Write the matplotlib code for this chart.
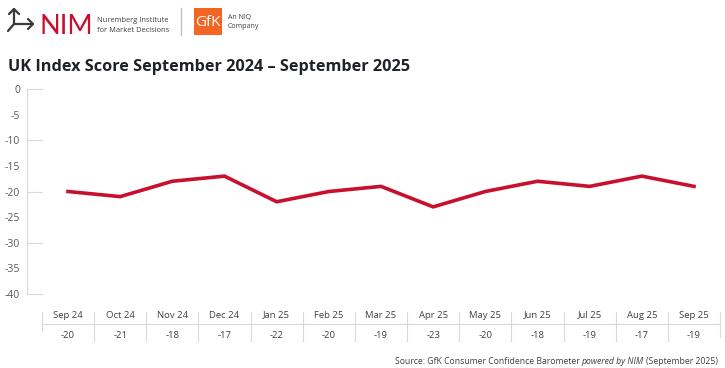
import matplotlib.pyplot as plt
import matplotlib.transforms as mtransforms
from matplotlib.patches import Rectangle
from matplotlib.lines import Line2D

months = ['Sep 24', 'Oct 24', 'Nov 24', 'Dec 24', 'Jan 25', 'Feb 25', 'Mar 25',
          'Apr 25', 'May 25', 'Jun 25', 'Jul 25', 'Aug 25', 'Sep 25']
scores = [-20, -21, -18, -17, -22, -20, -19, -23, -20, -18, -19, -17, -19]
y_ticks = [0, -5, -10, -15, -20, -25, -30, -35, -40]

W, H = 725, 368
RED = '#C8102E'
GREY = '#404040'

plt.rcParams['font.family'] = ['Open Sans', 'DejaVu Sans']

fig = plt.figure(figsize=(W / 100, H / 100), dpi=100)

def px(x, y):
    # pixel coords (top-left origin) -> figure fraction
    return x / W, 1 - y / H

# plot area: spine at x=27, categories centred at 68 ... 694, y 0 -> 89px, -40 -> 294px
left, right = 27, 722
top, bottom = 89, 294
ax = fig.add_axes([left / W, 1 - bottom / H, (right - left) / W, (bottom - top) / H])
step = (694 - 68) / 12
x0 = -(68 - left) / step
x1 = 12 + (right - 694) / step
ax.set_xlim(x0, x1)
ax.set_ylim(-40, 0)

xs = list(range(len(months)))
ax.plot(xs, scores, color=RED, lw=2.6, solid_joinstyle='miter')

for s in ['top', 'right', 'bottom']:
    ax.spines[s].set_visible(False)
ax.spines['left'].set_color('#d9d9d9')
ax.spines['left'].set_linewidth(0.8)
ax.set_yticks(y_ticks)
ax.set_yticklabels([str(v) for v in y_ticks])
ax.tick_params(axis='y', length=0, labelsize=7.5, labelcolor='#595959', pad=5)
ax.set_xticks([])
for v in [0, -10, -20, -30, -40]:
    ax.plot([x0, -0.5], [v, v], color='#d9d9d9', lw=0.8, clip_on=False)

# table under the plot
trans = mtransforms.blended_transform_factory(ax.transData, fig.transFigure)
yh = 1 - 315 / H
yv = 1 - 336 / H
yline = 1 - 324 / H
for i, (m, s) in enumerate(zip(months, scores)):
    ax.text(i, yh, m, transform=trans, ha='center', va='center', fontsize=6.8, color=GREY)
    ax.text(i, yv, str(s), transform=trans, ha='center', va='center', fontsize=6.8, color=GREY)
for i in range(len(months) + 1):
    xb = i - 0.5
    ybot = 330 if i == 0 else (337 if i == len(months) else 341)
    fig.add_artist(Line2D([xb, xb], [1 - 312 / H, 1 - ybot / H], transform=trans,
                          color='#d9d9d9', lw=0.8))
fig.add_artist(Line2D([-0.5, len(months) - 0.5], [yline, yline], transform=trans,
                      color='#d9d9d9', lw=0.8))

# title
fig.text(*px(8, 67), 'UK Index Score September 2024 \u2013 September 2025',
         fontsize=11.7, fontweight='bold', color='#1f2328', va='center', ha='left')

# source, with italic middle part
fig.canvas.draw()
r = fig.canvas.get_renderer()
t3 = fig.text(*px(718, 361), '(September 2025)', fontsize=6.2, color=GREY,
              ha='right', va='center')
bb = t3.get_window_extent(r)
t2 = fig.text(bb.x0 / W - 2.2 / W, 1 - 361 / H, 'powered by NIM', fontsize=6.2, color=GREY,
              ha='right', va='center', style='italic')
bb2 = t2.get_window_extent(r)
fig.text(bb2.x0 / W - 2.2 / W, 1 - 361 / H, 'Source: GfK Consumer Confidence Barometer',
         fontsize=6.2, color=GREY, ha='right', va='center')

# logo: NIM arrow icon
icon = '#3a3a3a'
def seg(pts):
    fig.add_artist(Line2D([p[0] / W for p in pts], [1 - p[1] / H for p in pts],
                          color=icon, lw=1.6, solid_capstyle='round',
                          solid_joinstyle='round'))
seg([(9, 14), (14, 9), (19, 14)])
seg([(14, 9), (14, 24), (33, 24)])
seg([(28, 19), (33, 24), (28, 29)])
seg([(14, 24), (8, 31)])
fig.text(*px(39, 26), 'NIM', fontsize=19.5, color=RED, ha='left', va='center',
         family=['Lato', 'DejaVu Sans'])
fig.text(*px(97, 20.5), 'Nuremberg Institute', fontsize=5.4, color=GREY, ha='left', va='center')
fig.text(*px(97, 31), 'for Market Decisions', fontsize=5.4, color=GREY, ha='left', va='center')
fig.add_artist(Line2D([181 / W, 181 / W], [1 - 8 / H, 1 - 35 / H], color='#bfbfbf', lw=1))
x_, y_ = px(194, 35)
fig.add_artist(Rectangle((x_, y_), 28 / W, 27 / H, transform=fig.transFigure,
                         color='#F26522', lw=0))
fig.text(*px(208, 23), 'GfK', fontsize=11, color='white', ha='center', va='center')
fig.text(*px(228, 18), 'An NIQ', fontsize=5, color=GREY, ha='left', va='center')
fig.text(*px(228, 27), 'Company', fontsize=5, color=GREY, ha='left', va='center')

fig.savefig('out.png', dpi=100)
